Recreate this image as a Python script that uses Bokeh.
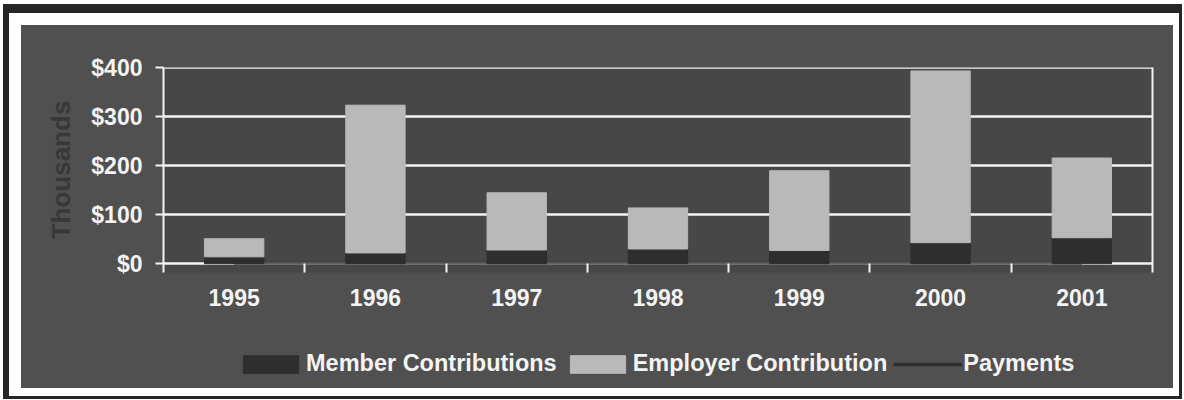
from bokeh.plotting import figure
from bokeh.models import (ColumnDataSource, Range1d, FixedTicker, NumeralTickFormatter,
                          LinearAxis, Legend, LegendItem)
from bokeh.layouts import column
from bokeh.embed import file_html
from bokeh.resources import INLINE

# Fund activity by year, in thousands of dollars
years = [1995, 1996, 1997, 1998, 1999, 2000, 2001]
member = [14, 22, 28, 30, 27, 43, 53]
employer = [37, 302, 117, 84, 163, 351, 163]
payments = [1, 1, 1, 1, 1, 1, 1]
y_ticks = [0, 100, 200, 300, 400]
series_names = ["Member Contributions", "Employer Contribution", "Payments"]

PANEL = "#505050"
PLOT_BG = "#474747"
LIGHT = "#b9b9b9"
DARK = "#2e2e2e"
WHITE = "#f4f4f4"
FONT = "Liberation Sans"
BORDERS = dict(min_border_left=142, min_border_right=21)

source = ColumnDataSource(dict(year=years, member=member, employer=employer, payments=payments))

p = figure(width=1152, height=310, output_backend="svg", toolbar_location=None,
           x_range=Range1d(years[0] - 0.5, years[-1] + 0.5),
           y_range=Range1d(-18, 401),
           min_border_top=42, min_border_bottom=63, **BORDERS)
p.border_fill_color = PANEL
p.background_fill_color = PLOT_BG
p.outline_line_color = None

bars = p.vbar_stack(["member", "employer"], x="year", width=0.42, source=source,
                    fill_color=[DARK, LIGHT], line_color=[DARK, LIGHT])
pay = p.line(x="year", y="payments", source=source, line_color=DARK, line_width=3, line_alpha=0.75)

# y axis
ya = p.yaxis[0]
ya.ticker = FixedTicker(ticks=y_ticks, minor_ticks=[])
ya.formatter = NumeralTickFormatter(format="$0")
ya.axis_line_color = WHITE
ya.axis_line_width = 2
ya.major_tick_line_color = WHITE
ya.major_tick_line_width = 2
ya.major_tick_out = 8
ya.major_tick_in = 0
ya.minor_tick_line_color = None
ya.major_label_text_color = WHITE
ya.major_label_text_font = FONT
ya.major_label_text_font_style = "bold"
ya.major_label_text_font_size = "23px"
ya.major_label_standoff = 13
ya.axis_label = "Thousands"
ya.axis_label_text_color = "#383838"
ya.axis_label_text_font = FONT
ya.axis_label_text_font_style = "bold"
ya.axis_label_text_font_size = "26px"
ya.axis_label_standoff = 12

# x axis: year labels at bar centres, tick marks between years
xa = p.xaxis[0]
xa.ticker = FixedTicker(ticks=years, minor_ticks=[y + 0.5 for y in years[:-1]])
xa.major_label_overrides = {y: str(y) for y in years}
xa.axis_line_color = None
xa.major_tick_line_color = None
xa.major_tick_out = 0
xa.major_tick_in = 0
xa.minor_tick_line_color = WHITE
xa.minor_tick_line_width = 2
xa.minor_tick_in = 9
xa.minor_tick_out = 0
xa.major_label_text_color = WHITE
xa.major_label_text_font = FONT
xa.major_label_text_font_style = "bold"
xa.major_label_text_font_size = "23px"
xa.major_label_standoff = 16

# right border line of the plot area
ra = LinearAxis(ticker=FixedTicker(ticks=[]), axis_line_color=WHITE, axis_line_width=2,
                major_tick_line_color=None, minor_tick_line_color=None,
                major_label_standoff=0)
p.add_layout(ra, "right")

p.xgrid.grid_line_color = None
p.ygrid.ticker = FixedTicker(ticks=y_ticks)
p.ygrid.grid_line_color = WHITE
p.ygrid.grid_line_width = 2.5

# legend strip under the chart; its swatch renderers sit outside the visible range
lg = figure(width=1152, height=53, output_backend="svg", toolbar_location=None,
            x_range=Range1d(0, 1), y_range=Range1d(0, 1),
            min_border_top=0, min_border_bottom=0, **BORDERS)
lg.axis.visible = False
lg.grid.visible = False
lg.outline_line_color = None
lg.border_fill_color = PANEL
lg.background_fill_color = PANEL
swatch = ColumnDataSource(dict(x=[-10, -9], y=[-10, -10], top=[-5, -5]))
lg_member = lg.vbar(x="x", top="top", width=0.1, source=swatch, fill_color=DARK, line_color=DARK)
lg_employer = lg.vbar(x="x", top="top", width=0.1, source=swatch, fill_color=LIGHT, line_color=LIGHT)
lg_pay = lg.line(x="x", y="y", source=swatch, line_color=DARK, line_width=3.5)

legend = Legend(items=[
    LegendItem(label=series_names[0], renderers=[lg_member]),
    LegendItem(label=series_names[1], renderers=[lg_employer]),
    LegendItem(label=series_names[2], renderers=[lg_pay]),
], orientation="horizontal", location=(73, 11))
legend.background_fill_alpha = 0
legend.border_line_color = None
legend.label_text_color = WHITE
legend.label_text_font = FONT
legend.label_text_font_style = "bold"
legend.label_text_font_size = "23.5px"
legend.glyph_width = 69
legend.glyph_height = 22
legend.label_standoff = 1
legend.spacing = 6
legend.padding = 0
legend.margin = 0
lg.add_layout(legend, "center")

panel = column(p, lg, spacing=0, styles={"background-color": PANEL})
page = column(panel, styles={
    "background-color": "white",
    "margin-top": "4px", "margin-left": "3px",
    "border-top": "9px solid #262626", "border-left": "6px solid #262626",
    "border-right": "3px solid #262626", "border-bottom": "3px solid #262626",
    "padding": "12px 6px 8px 12px",
})

html = file_html(page, INLINE)
html = html.replace("<body>", '<body style="margin:0;background:white;">', 1)
open("out.html", "w").write(html)
